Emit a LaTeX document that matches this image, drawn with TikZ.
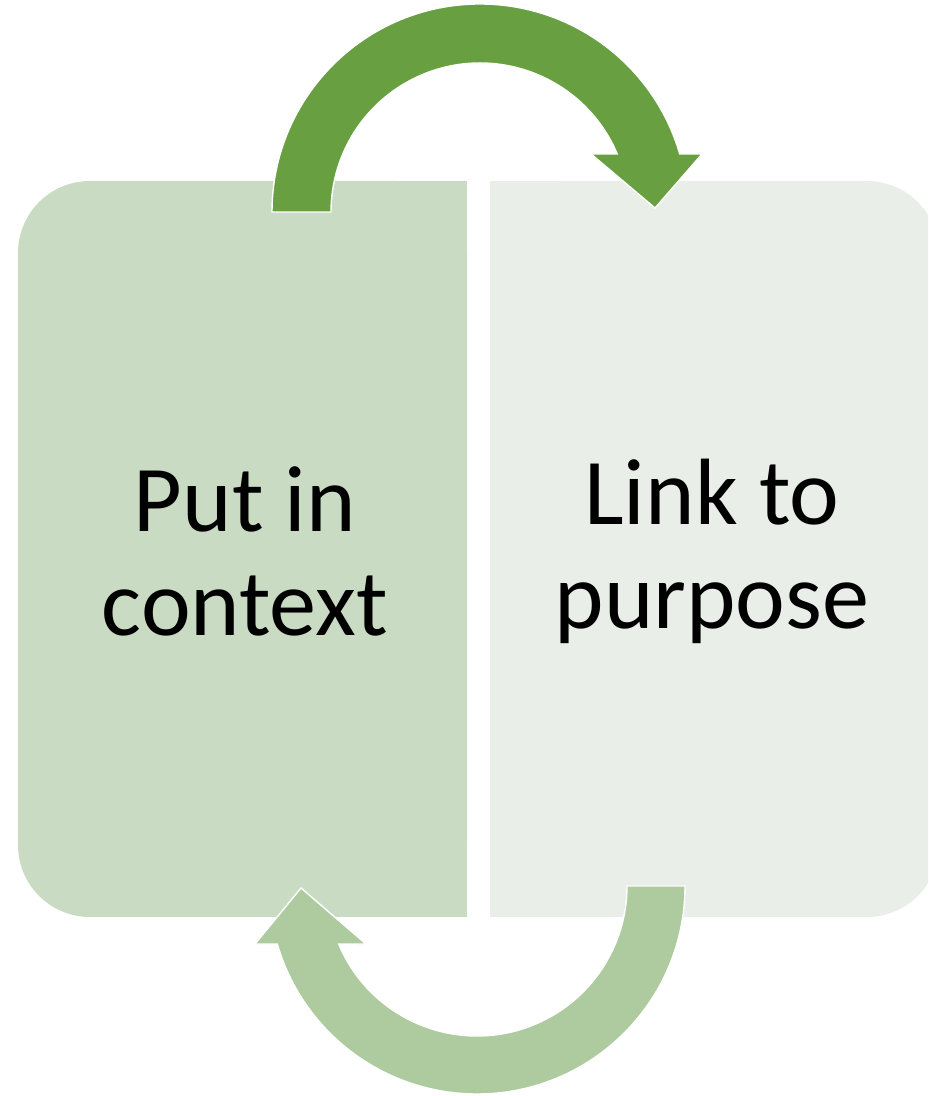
\documentclass[tikz,border=0pt]{standalone}
\usepackage{fontspec}
\setmainfont{Carlito}
\usetikzlibrary{calc}

\definecolor{ctxfill}{HTML}{C9DCC3}
\definecolor{purfill}{HTML}{E9EFE8}
\definecolor{topgreen}{HTML}{679F41}
\definecolor{botgreen}{HTML}{ADCB9E}

\tikzset{
	boxtext/.style={align=center, font=\fontsize{67}{74}\selectfont},
	bigarrow/.style={draw=white, line width=1pt, line join=miter}
}

\begin{document}
\begin{tikzpicture}[x=0.025cm, y=0.025cm]
	
	\useasboundingbox (0,0) rectangle (928,1096);
	\clip (0,0) rectangle (928,1096);
	
	% left box
	\fill[ctxfill, rounded corners=1.8cm] (18,179) rectangle (467,915);
	\fill[ctxfill] (300,179) rectangle (467,915);
	
	% right box
	\fill[purfill, rounded corners=1.8cm] (490,179) rectangle (939,915);
	\fill[purfill] (490,179) rectangle (650,915);
	
	% labels
	\node[boxtext] (ctx) at (245,545) {Put in\\context};
	\node[boxtext] (pur) at (712,545) {Link to\\purpose};
	
	% arrow centres
	\coordinate (ctop) at (480,884);
	\coordinate (cbot) at (477,210);
	
	%draw top arrow
	\filldraw[bigarrow, fill=topgreen]
	($(ctop)+(180:208)$) arc (180:16.2:208)
	-- (702,942) -- (655,888) -- (591,942)
	-- ($(ctop)+(22.9:149)$) arc (22.9:180:149)
	-- cycle;
	
	%draw bottom arrow
	\filldraw[bigarrow, fill=botgreen]
	($(cbot)+(0:208)$) arc (0:-163.8:208)
	-- (255,152) -- (301,208) -- (366,152)
	-- ($(cbot)+(-157.2:150)$) arc (-157.2:0:150)
	-- cycle;
	
\end{tikzpicture}
\end{document}
